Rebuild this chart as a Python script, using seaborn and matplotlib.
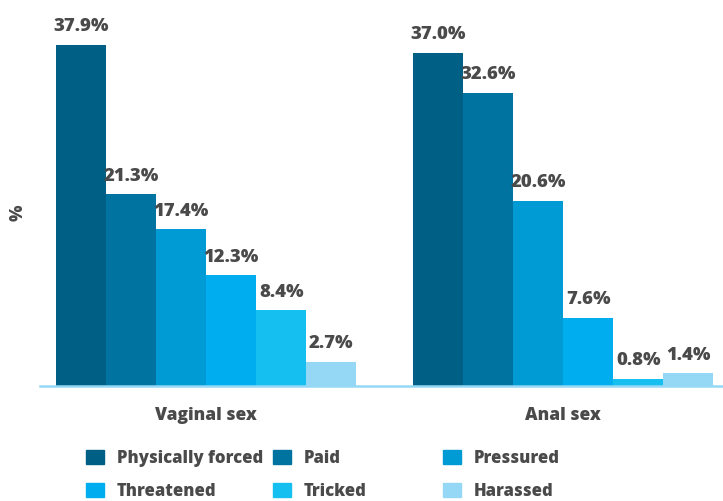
import matplotlib.pyplot as plt
import matplotlib.patches as mpatches
import pandas as pd
import seaborn as sns


groups = ["Vaginal sex", "Anal sex"]
categories = ["Physically forced", "Paid", "Pressured", "Threatened", "Tricked", "Harassed"]
vaginal = [37.9, 21.3, 17.4, 12.3, 8.4, 2.7]
anal = [37.0, 32.6, 20.6, 7.6, 0.8, 1.4]
colors = ["#005f85", "#0073a0", "#009bd4", "#00aeef", "#15c0f0", "#95d8f5"]

TEXT = "#4a4a4a"


def main() -> None:
    sns.set_style("white")
    plt.rcParams["font.family"] = ["Open Sans", "DejaVu Sans"]
    plt.rcParams["font.weight"] = "heavy"

    df = pd.DataFrame({
        "group": [g for g in groups for _ in categories],
        "category": categories * 2,
        "value": vaginal + anal,
    })

    fig = plt.figure(figsize=(7.23, 5.01), dpi=100)
    ax = fig.add_axes([40 / 723, 115 / 501, 683 / 723, 376 / 501])

    sns.barplot(data=df, x="group", y="value", hue="category", order=groups,
                hue_order=categories, palette=colors, width=0.84, gap=0,
                saturation=1, linewidth=0, legend=False, ax=ax)

    for cont in ax.containers:
        ax.bar_label(cont, fmt="%.1f%%", padding=7, fontsize=13.3,
                     fontweight="heavy", color=TEXT)

    ax.set_xlim(-0.466, 1.447)
    ax.set_ylim(0, 41.8)
    ax.set_yticks([])
    ax.set_xlabel("")
    ax.set_ylabel("%", fontsize=12.5, fontweight="heavy", color=TEXT)
    ax.yaxis.set_label_coords(-0.020, 0.46)
    ax.tick_params(axis="x", length=0, pad=15, labelsize=12.5, labelcolor=TEXT)
    for lbl in ax.get_xticklabels():
        lbl.set_fontweight("heavy")

    for side in ["top", "right", "left"]:
        ax.spines[side].set_visible(False)
    ax.spines["bottom"].set_color("#95d8f5")
    ax.spines["bottom"].set_linewidth(1.8)

    handles = [mpatches.Patch(color=c, label=l) for c, l in zip(colors, categories)]
    col_x = [86, 273, 443]
    for i, x in enumerate(col_x):
        fig.legend(handles=[handles[i], handles[i + 3]], loc="upper left",
                   bbox_to_anchor=(x / 723, 1 - 450 / 501), frameon=False,
                   borderpad=0, borderaxespad=0,
                   prop={"weight": "heavy", "size": 12},
                   handlelength=1.1, handleheight=0.9, handletextpad=0.75,
                   labelspacing=0.95, labelcolor=TEXT)

    fig.savefig("out.png", dpi=100)
    plt.close(fig)


if __name__ == "__main__":
    main()
